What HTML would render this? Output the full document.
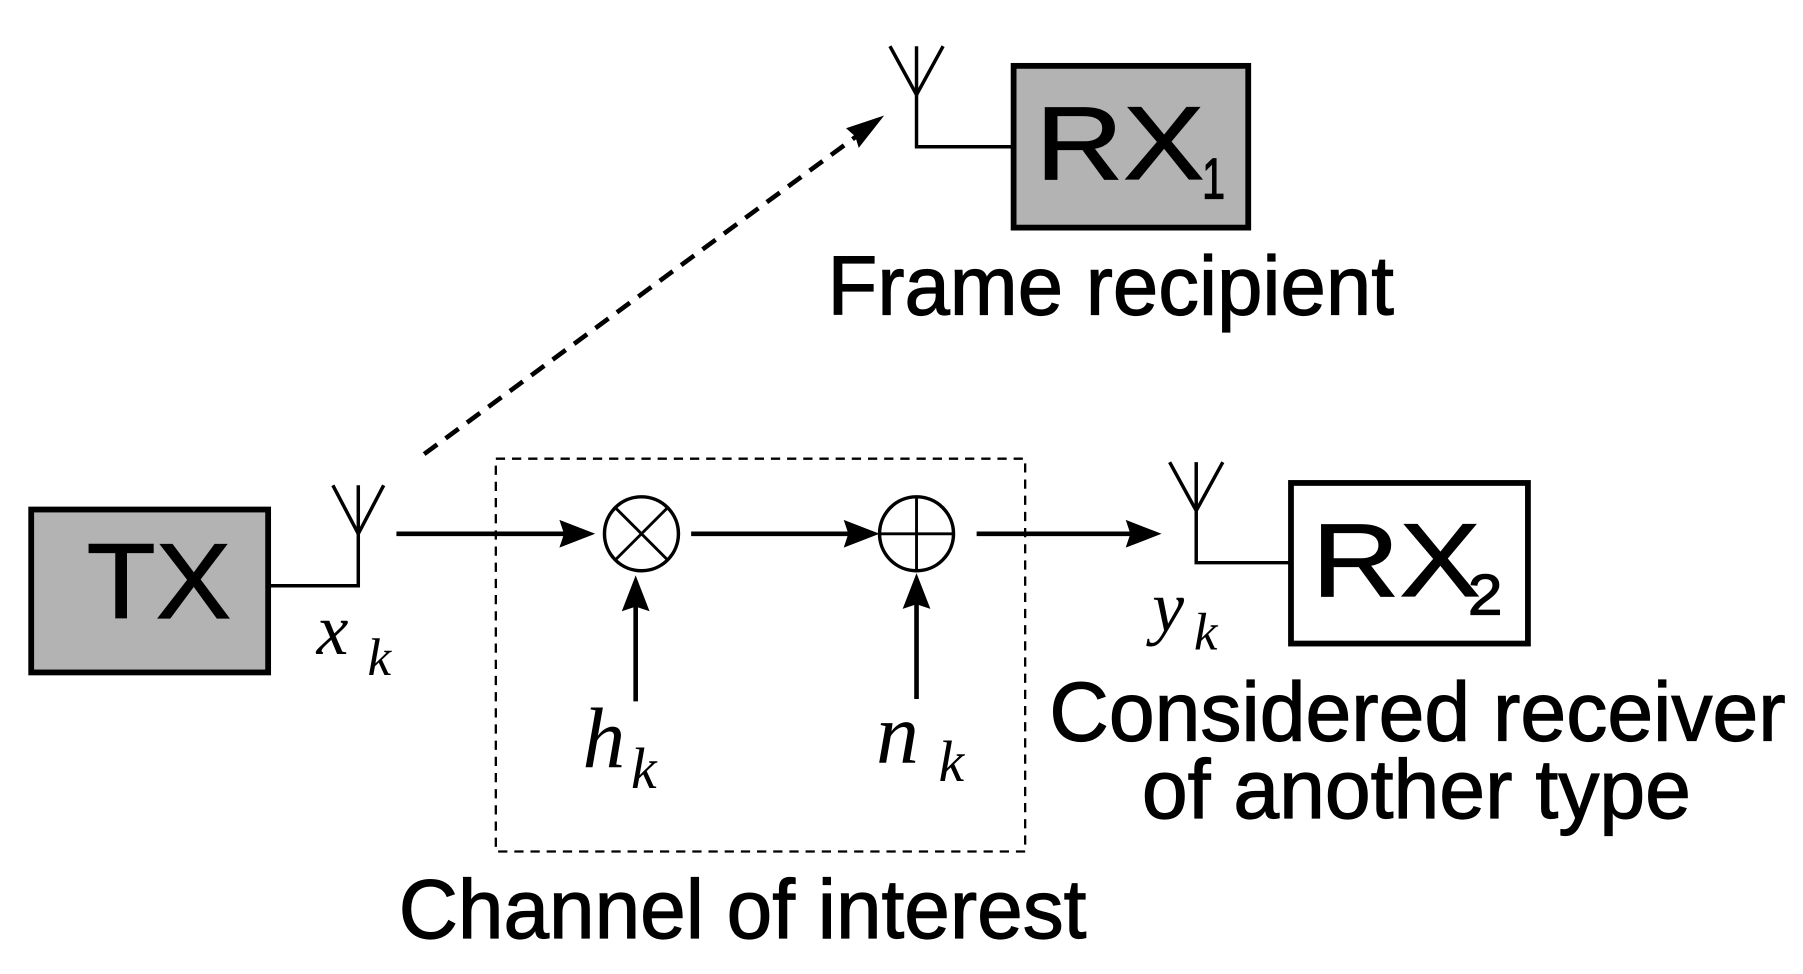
<!DOCTYPE html>
<html><head><meta charset="utf-8"><style>
html,body{margin:0;padding:0;background:#fff;}
svg{display:block;}
.t{font-family:"Liberation Sans",sans-serif;fill:#000;stroke:#000;stroke-width:1;}
.m{font-family:"Liberation Serif",serif;font-style:italic;fill:#000;}
</style></head><body>
<svg width="1803" height="974" viewBox="0 0 1560 843" preserveAspectRatio="none" xmlns="http://www.w3.org/2000/svg">
<!-- TX -->
<rect x="27" y="441" width="205" height="141" fill="#b3b3b3" stroke="#000" stroke-width="5"/>
<text class="t" x="75" y="535" font-size="92" textLength="125" lengthAdjust="spacingAndGlyphs">TX</text>
<polyline points="232,507 310,507 310,420" fill="none" stroke="#000" stroke-width="3"/>
<polyline points="288,420 310,462 332,420" fill="none" stroke="#000" stroke-width="3"/>
<text class="m" x="274" y="566" font-size="62">x</text>
<text class="m" x="318" y="584" font-size="46">k</text>
<!-- dashed box -->
<rect x="429" y="397" width="458" height="340" fill="none" stroke="#000" stroke-width="2" stroke-dasharray="8,6"/>
<!-- arrows -->
<line x1="343" y1="462" x2="490" y2="462" stroke="#000" stroke-width="4"/>
<polygon points="515,462 484,450 488,462 484,474"/>
<circle cx="555" cy="462" r="32" fill="#fff" stroke="#000" stroke-width="3"/>
<line x1="532" y1="439" x2="578" y2="485" stroke="#000" stroke-width="2.5"/>
<line x1="578" y1="439" x2="532" y2="485" stroke="#000" stroke-width="2.5"/>
<line x1="598" y1="462" x2="735" y2="462" stroke="#000" stroke-width="4"/>
<polygon points="761,462 730,450 734,462 730,474"/>
<circle cx="793" cy="462" r="32" fill="none" stroke="#000" stroke-width="3"/>
<line x1="761" y1="462" x2="825" y2="462" stroke="#000" stroke-width="2.5"/>
<line x1="793" y1="430" x2="793" y2="494" stroke="#000" stroke-width="2.5"/>
<line x1="845" y1="462" x2="980" y2="462" stroke="#000" stroke-width="4"/>
<polygon points="1005,462 974,450 978,462 974,474"/>
<line x1="550" y1="607" x2="550" y2="520" stroke="#000" stroke-width="4"/>
<polygon points="550,498 538,529 550,525 562,529"/>
<line x1="793" y1="605" x2="793" y2="518" stroke="#000" stroke-width="4"/>
<polygon points="793,496 781,527 793,523 805,527"/>
<text class="m" x="504" y="664" font-size="74">h</text>
<text class="m" x="546" y="682" font-size="50">k</text>
<text class="m" x="758" y="660" font-size="74">n</text>
<text class="m" x="812" y="676" font-size="50">k</text>
<text class="t" x="345" y="812" font-size="72" textLength="595" lengthAdjust="spacingAndGlyphs">Channel of interest</text>
<!-- dashed arrow -->
<line x1="367" y1="393" x2="745" y2="115" stroke="#000" stroke-width="4" stroke-dasharray="14,9"/>
<polygon points="765,100 732,111 740,118 743,128"/>
<!-- RX1 -->
<polyline points="877,127 793,127 793,40" fill="none" stroke="#000" stroke-width="3"/>
<polyline points="770,40 793,82 816,40" fill="none" stroke="#000" stroke-width="3"/>
<rect x="877" y="57" width="203" height="140" fill="#b3b3b3" stroke="#000" stroke-width="5"/>
<text class="t" x="896" y="155" font-size="90" textLength="146" lengthAdjust="spacingAndGlyphs">RX</text>
<text class="t" x="1040" y="172" font-size="50" textLength="20" lengthAdjust="spacingAndGlyphs">1</text>
<text class="t" x="716" y="272" font-size="72" textLength="490" lengthAdjust="spacingAndGlyphs">Frame recipient</text>
<!-- RX2 -->
<polyline points="1115,487 1035,487 1035,400" fill="none" stroke="#000" stroke-width="3"/>
<polyline points="1012,400 1035,442 1058,400" fill="none" stroke="#000" stroke-width="3"/>
<rect x="1117" y="418" width="205" height="139" fill="#fff" stroke="#000" stroke-width="5"/>
<text class="t" x="1135" y="516" font-size="90" textLength="146" lengthAdjust="spacingAndGlyphs">RX</text>
<text class="t" x="1270" y="532" font-size="50" textLength="30" lengthAdjust="spacingAndGlyphs">2</text>
<text class="m" x="997" y="546" font-size="62">y</text>
<text class="m" x="1033" y="562" font-size="46">k</text>
<text class="t" x="908" y="641" font-size="72" textLength="637" lengthAdjust="spacingAndGlyphs">Considered receiver</text>
<text class="t" x="988" y="708" font-size="72" textLength="475" lengthAdjust="spacingAndGlyphs">of another type</text>
</svg>
</body></html>
